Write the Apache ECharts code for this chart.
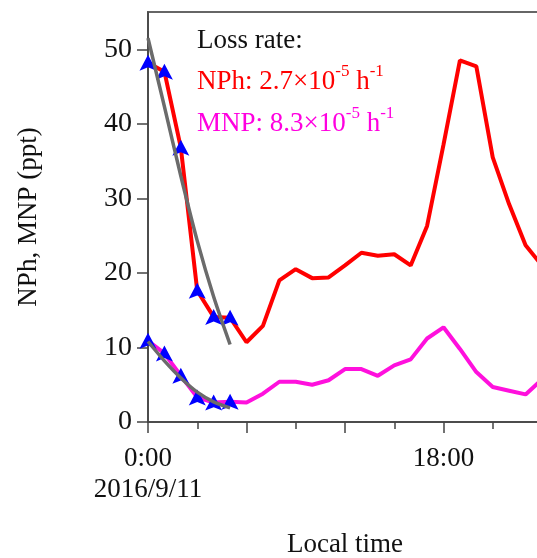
<!DOCTYPE html>
<html>
<head>
<meta charset="utf-8">
<script src="https://cdn.jsdelivr.net/npm/echarts@6/dist/echarts.min.js"></script>
<style>
  html, body { margin: 0; padding: 0; background: #fff; }
  #chart { width: 537px; height: 558px; }
</style>
</head>
<body>
<div id="chart"></div>
<script>
// NPh / MNP diurnal series, hourly from 0:00 on 2016/9/11
var hours = [0, 1, 2, 3, 4, 5, 6, 7, 8, 9, 10, 11, 12, 13, 14, 15, 16, 17, 18, 19, 20, 21, 22, 23, 24];
var nph = [48.2, 47.0, 36.8, 17.6, 14.1, 14.0, 10.7, 12.9, 19.0, 20.5, 19.3, 19.4, 21.0, 22.7, 22.3, 22.5, 21.0, 26.3, 37.2, 48.5, 47.7, 35.5, 29.2, 23.7, 21.0];
var mnp = [10.9, 9.2, 6.2, 3.3, 2.6, 2.7, 2.6, 3.8, 5.4, 5.4, 5.0, 5.6, 7.1, 7.1, 6.2, 7.6, 8.4, 11.2, 12.7, 9.8, 6.7, 4.7, 4.2, 3.7, 5.7];

// decay fits over the first six hours (grey curves)
var fitHours = [0, 1, 2, 3, 4, 5];
var nphFit = [51.5, 42.3, 33.0, 24.3, 16.8, 10.4];
var mnpFit = [10.8, 8.2, 5.9, 4.0, 2.7, 1.9];

var markedCount = 6; // blue triangles on the first six points
var yTicks = [0, 10, 20, 30, 40, 50];
var xLabelValues = [0, 18];
var xLabelText = { 0: '0:00\n2016/9/11', 18: '18:00' };

var FONT = '"Liberation Serif", "DejaVu Serif", serif';
var ARROW = 'path://M10,0 L20,19 L10,15 L0,19 Z';
var AXIS = '#444';

function pairs(xs, ys) {
  return ys.map(function (v, i) { return [xs[i], v]; });
}

var chart = echarts.init(document.getElementById('chart'));
chart.setOption({
  animation: false,
  backgroundColor: '#fff',
  grid: {
    left: 148, top: 12, bottom: 136, right: -5,
    outerBoundsMode: 'none', containLabel: false,
    show: true, borderColor: '#666', borderWidth: 2, backgroundColor: 'transparent'
  },
  xAxis: [
    {
      type: 'value', min: 0, max: 24, interval: 6,
      name: 'Local time', nameLocation: 'middle', nameGap: 109,
      nameTextStyle: { fontFamily: FONT, fontSize: 27, color: '#111' },
      axisLine: { lineStyle: { color: AXIS, width: 1.5 } },
      axisTick: { length: 11, lineStyle: { color: AXIS, width: 1.5 } },
      splitLine: { show: false },
      axisLabel: {
        customValues: xLabelValues,
        margin: 21, fontFamily: FONT, fontSize: 27, lineHeight: 31, color: '#111',
        formatter: function (v) { return xLabelText[v] || ''; }
      }
    },
    {
      // short 3-hour ticks
      type: 'value', min: 0, max: 24, interval: 3, position: 'bottom',
      axisLine: { show: false },
      axisTick: { show: true, length: 7, lineStyle: { color: AXIS, width: 1.5 } },
      axisLabel: { show: false },
      splitLine: { show: false }
    }
  ],
  yAxis: {
    type: 'value', min: 0, max: 55,
    name: 'NPh, MNP (ppt)', nameLocation: 'middle', nameGap: 106, nameRotate: 90,
    nameTextStyle: { fontFamily: FONT, fontSize: 27, color: '#111' },
    axisLine: { show: true, lineStyle: { color: AXIS, width: 1.5 } },
    axisTick: { show: true, customValues: yTicks, length: 11, lineStyle: { color: AXIS, width: 1.5 } },
    splitLine: { show: false },
    axisLabel: {
      customValues: yTicks, margin: 16,
      fontFamily: FONT, fontSize: 28, color: '#111'
    }
  },
  graphic: [
    {
      type: 'text', left: 197, top: 27, z: 10,
      style: { text: 'Loss rate:', font: '27px ' + FONT, fill: '#111' }
    },
    {
      type: 'text', left: 197, top: 63, z: 10,
      style: {
        text: '{m|NPh: 2.7×10}{s|-5}{m| h}{s|-1}',
        fill: '#ff0000',
        rich: {
          m: { fontFamily: FONT, fontSize: 27, lineHeight: 32, fill: '#ff0000', verticalAlign: 'bottom' },
          s: { fontFamily: FONT, fontSize: 17, lineHeight: 32, fill: '#ff0000', verticalAlign: 'top' }
        }
      }
    },
    {
      type: 'text', left: 197, top: 105, z: 10,
      style: {
        text: '{m|MNP: 8.3×10}{s|-5}{m| h}{s|-1}',
        fill: '#ff00e0',
        rich: {
          m: { fontFamily: FONT, fontSize: 27, lineHeight: 32, fill: '#ff00e0', verticalAlign: 'bottom' },
          s: { fontFamily: FONT, fontSize: 17, lineHeight: 32, fill: '#ff00e0', verticalAlign: 'top' }
        }
      }
    }
  ],
  series: [
    {
      name: 'NPh', type: 'line', data: pairs(hours, nph), showSymbol: false, z: 2,
      lineStyle: { color: '#ff0000', width: 4 }
    },
    {
      name: 'MNP', type: 'line', data: pairs(hours, mnp), showSymbol: false, z: 2,
      lineStyle: { color: '#ff10dd', width: 4 }
    },
    {
      name: 'NPh marks', type: 'scatter', z: 3,
      data: pairs(hours, nph.slice(0, markedCount)),
      symbol: ARROW, symbolSize: [17, 16], itemStyle: { color: '#0000ff', opacity: 1 }
    },
    {
      name: 'MNP marks', type: 'scatter', z: 3,
      data: pairs(hours, mnp.slice(0, markedCount)),
      symbol: ARROW, symbolSize: [17, 16], itemStyle: { color: '#0000ff', opacity: 1 }
    },
    {
      name: 'NPh fit', type: 'line', data: pairs(fitHours, nphFit), showSymbol: false, smooth: 0.3, z: 4,
      lineStyle: { color: '#6b6b6b', width: 3.5 }
    },
    {
      name: 'MNP fit', type: 'line', data: pairs(fitHours, mnpFit), showSymbol: false, smooth: 0.3, z: 4,
      lineStyle: { color: '#6b6b6b', width: 3.5 }
    }
  ]
});
</script>
</body>
</html>
